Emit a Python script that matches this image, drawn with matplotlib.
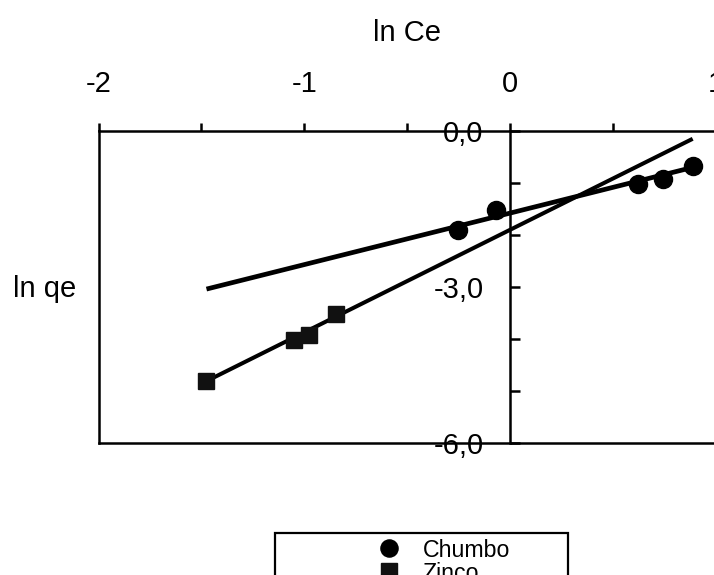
import matplotlib
matplotlib.use("Agg")
import matplotlib.pyplot as plt
from matplotlib.patches import Rectangle
from matplotlib.ticker import MultipleLocator

plt.rcParams['font.family'] = ['Liberation Sans', 'DejaVu Sans']

# data
chumbo_x = [-0.25, -0.068, 0.625, 0.743, 0.889]
chumbo_y = [-1.90, -1.52, -1.02, -0.92, -0.67]
zinco_x = [-1.475, -1.05, -0.977, -0.845]
zinco_y = [-4.81, -4.02, -3.92, -3.52]
chumbo_fit_x = [-1.475, 0.889]
chumbo_fit_y = [-3.04, -0.70]
zinco_fit_x = [-1.475, 0.889]
zinco_fit_y = [-4.81, -0.15]
xticks = [-2, -1, 0, 1]
xtick_labels = ['-2', '-1', '0', '1']
yticks = [0, -3, -6]
ytick_labels = ['0,0', '-3,0', '-6,0']

W, H = 714, 575
fig = plt.figure(figsize=(W/100, H/100), dpi=100)
ax = fig.add_axes([98.5/W, 1-443/H, 617/W, 312/H])
ax.set_xlim(-2, 1)
ax.set_ylim(-6, 0)

ax.plot(chumbo_fit_x, chumbo_fit_y, color='black', lw=3.4, solid_capstyle='butt')
ax.plot(zinco_fit_x, zinco_fit_y, color='black', lw=2.9, solid_capstyle='butt')
h1, = ax.plot(chumbo_x, chumbo_y, 'o', color='black', ms=13, label='Chumbo', clip_on=False)
h2, = ax.plot(zinco_x, zinco_y, 's', color='#111111', ms=12, label='Zinco')

# spines
for s in ['top', 'bottom', 'left']:
    ax.spines[s].set_linewidth(1.8)
ax.spines['right'].set_visible(False)
ax.spines['left'].set_position(('data', 0))
ax.axvline(-2, color='black', lw=1.8, clip_on=False)

ax.xaxis.tick_top()
ax.set_xticks(xticks)
ax.set_xticklabels(xtick_labels, fontsize=21)
ax.xaxis.set_minor_locator(MultipleLocator(0.5))
ax.tick_params(axis='x', which='both', direction='out', length=6, width=1.8, pad=18)

ax.set_yticks(yticks)
ax.set_yticklabels(ytick_labels, fontsize=21)
ax.yaxis.set_minor_locator(MultipleLocator(1.0))
ax.tick_params(axis='y', which='both', direction='in', length=7.5, width=1.8, pad=19)

fig.text(407/W, 1-41/H, 'ln Ce', fontsize=21, ha='center', va='baseline')
fig.text(13/W, 1-297/H, 'ln qe', fontsize=21, ha='left', va='baseline')

# legend
fig.add_artist(Rectangle((275/W, -0.2), 293/W, 0.2 + 1-533/H,
                         transform=fig.transFigure, fill=False, lw=1.6, ec='black'))
fig.legend([h1, h2], ['Chumbo', 'Zinco'], loc='upper left',
           bbox_to_anchor=(360/W, 1-527/H), frameon=False, fontsize=16.7,
           handlelength=1.5, handletextpad=0.7, labelspacing=0.0, borderpad=0,
           markerscale=0.95)

fig.savefig('out.png', dpi=100)
